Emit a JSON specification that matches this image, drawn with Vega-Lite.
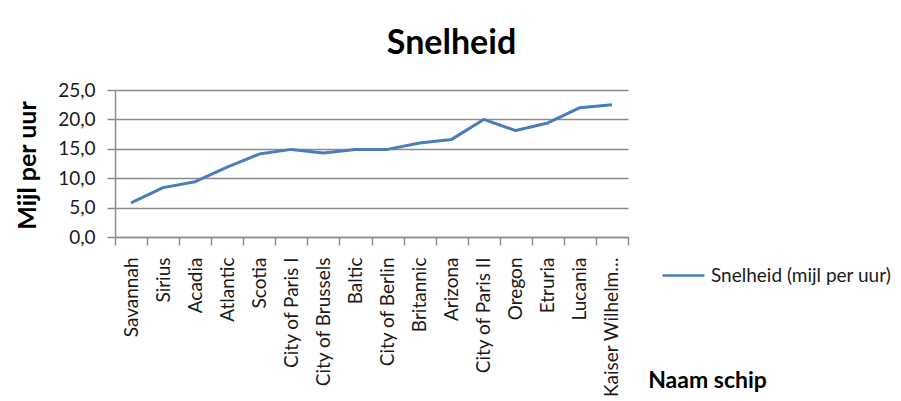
{
  "$schema": "https://vega.github.io/schema/vega-lite/v6.json",
  "width": 513,
  "height": 147,
  "autosize": {"type": "none"},
  "padding": {"left": 115, "top": 90, "right": 273, "bottom": 164},
  "background": "white",
  "title": {
    "text": "Snelheid",
    "font": "Lato",
    "fontSize": 34,
    "fontWeight": "bold",
    "color": "#000000",
    "anchor": "middle",
    "dx": 80,
    "dy": 45,
    "baseline": "alphabetic",
    "offset": 38
  },
  "data": {
    "values": [
      {"schip": "Savannah", "snelheid": 5.8, "serie": "Snelheid (mijl per uur)"},
      {"schip": "Sirius", "snelheid": 8.4, "serie": "Snelheid (mijl per uur)"},
      {"schip": "Acadia", "snelheid": 9.4, "serie": "Snelheid (mijl per uur)"},
      {"schip": "Atlantic", "snelheid": 11.9, "serie": "Snelheid (mijl per uur)"},
      {"schip": "Scotia", "snelheid": 14.1, "serie": "Snelheid (mijl per uur)"},
      {"schip": "City of Paris I", "snelheid": 14.9, "serie": "Snelheid (mijl per uur)"},
      {"schip": "City of Brussels", "snelheid": 14.3, "serie": "Snelheid (mijl per uur)"},
      {"schip": "Baltic", "snelheid": 14.9, "serie": "Snelheid (mijl per uur)"},
      {"schip": "City of Berlin", "snelheid": 14.9, "serie": "Snelheid (mijl per uur)"},
      {"schip": "Britannic", "snelheid": 16.0, "serie": "Snelheid (mijl per uur)"},
      {"schip": "Arizona", "snelheid": 16.6, "serie": "Snelheid (mijl per uur)"},
      {"schip": "City of Paris II", "snelheid": 20.0, "serie": "Snelheid (mijl per uur)"},
      {"schip": "Oregon", "snelheid": 18.1, "serie": "Snelheid (mijl per uur)"},
      {"schip": "Etruria", "snelheid": 19.4, "serie": "Snelheid (mijl per uur)"},
      {"schip": "Lucania", "snelheid": 22.0, "serie": "Snelheid (mijl per uur)"},
      {"schip": "Kaiser Wilhelm der Grosse", "snelheid": 22.5, "serie": "Snelheid (mijl per uur)"}
    ]
  },
  "mark": {"type": "line", "strokeWidth": 3, "strokeJoin": "round"},
  "encoding": {
    "x": {
      "field": "schip",
      "type": "nominal",
      "sort": null,
      "bandPosition": 0.5,
      "scale": {"type": "band", "paddingInner": 0, "paddingOuter": 0},
      "axis": {
        "title": "Naam schip",
        "titleFont": "Lato",
        "titleFontSize": 23,
        "titleFontWeight": "bold",
        "titleColor": "#000000",
        "titleAlign": "center",
        "titleBaseline": "alphabetic",
        "titleX": 592,
        "titleY": 150,
        "tickBand": "extent",
        "tickSize": 8,
        "tickColor": "#8c8c8c",
        "tickWidth": 1.5,
        "domainColor": "#8c8c8c",
        "domainWidth": 1.5,
        "labelAngle": 270,
        "labelFont": "Lato",
        "labelFontSize": 19,
        "labelColor": "#1a1a1a",
        "labelPadding": 12,
        "labelLimit": 300,
        "labelExpr": "length(datum.label) > 16 ? slice(datum.label, 0, 14) + '…' : datum.label",
        "grid": false
      }
    },
    "y": {
      "field": "snelheid",
      "type": "quantitative",
      "scale": {"domain": [0, 25], "nice": false},
      "axis": {
        "title": "Mijl per uur",
        "titleFont": "Lato",
        "titleFontSize": 25,
        "titleFontWeight": "bold",
        "titleColor": "#000000",
        "titleAngle": 270,
        "titleAlign": "center",
        "titleBaseline": "middle",
        "titleX": -88,
        "titleY": 75,
        "values": [0, 5, 10, 15, 20, 25],
        "labelExpr": "replace(format(datum.value, '.1f'), '.', ',')",
        "labelFont": "Lato",
        "labelFontSize": 19,
        "labelColor": "#1a1a1a",
        "labelPadding": 12,
        "tickSize": 8,
        "tickColor": "#8c8c8c",
        "tickWidth": 1.5,
        "domainColor": "#8c8c8c",
        "domainWidth": 1.5,
        "grid": true,
        "gridColor": "#8c8c8c",
        "gridWidth": 1.5
      }
    },
    "color": {
      "field": "serie",
      "type": "nominal",
      "scale": {"range": ["#4a7ebb"]},
      "legend": {
        "title": null,
        "orient": "none",
        "legendX": 546,
        "legendY": 163,
        "symbolType": "stroke",
        "symbolSize": 1764,
        "symbolStrokeWidth": 2.5,
        "labelFont": "Lato",
        "labelFontSize": 19,
        "labelColor": "#1a1a1a",
        "labelOffset": 5,
        "labelLimit": 400
      }
    }
  },
  "config": {
    "view": {"stroke": null}
  }
}
